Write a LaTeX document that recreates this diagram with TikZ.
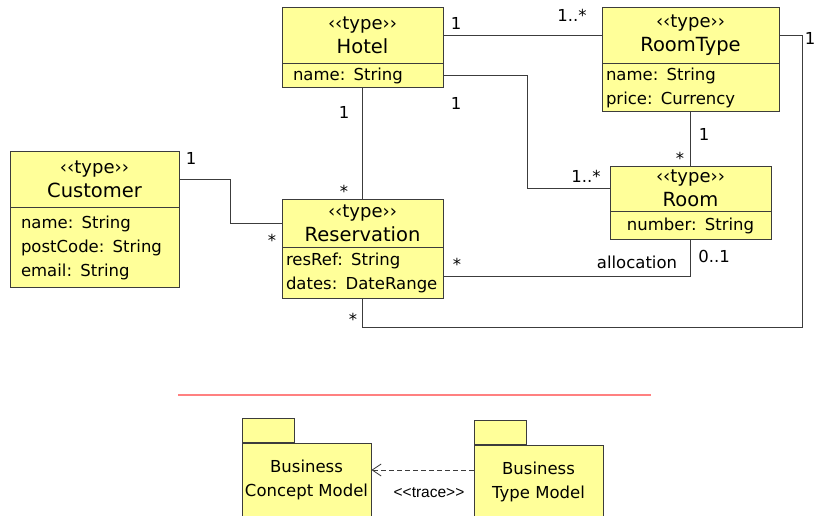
\documentclass[tikz,border=0pt]{standalone}
\usepackage{fontspec}
\setmainfont{DejaVu Sans}
\newfontfamily\tracefont{Liberation Sans}
\usetikzlibrary{positioning,arrows.meta,calc}
\definecolor{umlyellow}{RGB}{255,255,153}
\definecolor{umlline}{RGB}{60,60,60}
\definecolor{sepred}{RGB}{255,128,128}
\tikzset{
  typehead/.style={draw=umlline, fill=umlyellow, line width=0.9pt, align=center,
    inner sep=0pt, font=\fontsize{18}{24}\selectfont},
  typeattr/.style={draw=umlline, fill=umlyellow, line width=0.9pt, align=left,
    inner ysep=0pt, font=\fontsize{16.5}{24}\selectfont},
  mult/.style={inner sep=0pt, font=\fontsize{16.5}{18}\selectfont},
  assoc/.style={draw=umlline, line width=0.9pt},
  pkg/.style={draw=umlline, fill=umlyellow, line width=0.9pt, inner sep=0pt},
  pkgbody/.style={pkg, align=center, font=\fontsize{16.5}{24}\selectfont}
}
\newcommand{\tname}[1]{‹‹type››\\{\fontsize{19.5}{24}\selectfont #1}}
\begin{document}
\begin{tikzpicture}[x=1pt,y=-1pt]
  \useasboundingbox (0,0) rectangle (816,515);
  \clip (0,0) rectangle (816,515);

  % types
  \node[typehead, minimum width=161pt, minimum height=56pt] (hotel) at (362.5,35) {\tname{Hotel}};
  \node[typeattr, below=0pt of hotel, minimum height=24pt, text width=139pt, inner xsep=11pt] (hotelA) {name: String};

  \node[typehead, minimum width=169pt, minimum height=56pt] (customer) at (94.5,179) {\tname{Customer}};
  \node[typeattr, below=0pt of customer, minimum height=80pt, text width=147pt, inner xsep=11pt] (customerA)
    {name: String\\postCode: String\\email: String};

  \node[typehead, minimum width=161pt, minimum height=48pt] (reservation) at (362.5,223) {\tname{Reservation}};
  \node[typeattr, below=0pt of reservation, minimum height=51pt, text width=153pt, inner xsep=4pt] (reservationA)
    {resRef: String\\dates: DateRange};

  \node[typehead, minimum width=177pt, minimum height=56pt] (roomtype) at (690.5,35) {\tname{RoomType}};
  \node[typeattr, below=0pt of roomtype, minimum height=48pt, text width=169pt, inner xsep=4pt] (roomtypeA)
    {name: String\\price: Currency};

  \node[typehead, minimum width=161pt, minimum height=45pt] (room) at (690.5,188.5) {\tname{Room}};
  \node[typeattr, below=0pt of room, minimum height=28pt, text width=153pt, inner xsep=4pt, align=center] (roomA)
    {number: String};

  % associations
  \draw[assoc] (hotel.east) -- (roomtype.west);
  \draw[assoc] (hotelA.east) -- ++(84,0) |- (room.west);
  \draw[assoc] (hotelA.south) -- (reservation.north);
  \draw[assoc] (customer.east) -- ++(51,0) |- (reservation.west);
  \draw[assoc] (roomtypeA.south) -- (room.north);
  \draw[assoc] ($(reservationA.east)+(0,3)$) -| (roomA.south);
  \draw[assoc] (roomtype.east) -- ++(23,0) -- ++(0,292) -| (reservationA.south);

  % multiplicities
  \node[mult] (m1) at (456,23) {1};
  \node[mult] (m2) at (572,15) {1..*};
  \node[mult] (m3) at (456,103) {1};
  \node[mult] (m4) at (586,176) {1..*};
  \node[mult] (m5) at (344,112) {1};
  \node[mult] (m6) at (344,191) {*};
  \node[mult] (m7) at (191,158) {1};
  \node[mult] (m8) at (272,240) {*};
  \node[mult] (m9) at (704,134) {1};
  \node[mult] (m10) at (680,158) {*};
  \node[mult] (m11) at (457,264) {*};
  \node[mult] (alloc) at (637,262) {allocation};
  \node[mult] (m12) at (714,256) {0..1};
  \node[mult] (m13) at (810,38) {1};
  \node[mult] (m14) at (353,319) {*};

  % separator
  \draw[sepred, line width=1.6pt] (178,395) -- (651,395);

  % packages
  \node[pkgbody, minimum width=129pt, minimum height=74pt] (concept) at (306.5,480) {Business\\Concept Model};
  \node[pkg, minimum width=52pt, minimum height=24pt, anchor=south west] (conceptT) at (concept.north west) {};
  \node[pkgbody, minimum width=129pt, minimum height=74pt] (typemodel) at (538.5,482) {Business\\Type Model};
  \node[pkg, minimum width=52pt, minimum height=24pt, anchor=south west] (typemodelT) at (typemodel.north west) {};

  \draw[umlline, line width=0.8pt, dash pattern=on 5pt off 3pt, -{Straight Barb[length=9pt,width=12pt]}]
    ($(typemodel.west)+(0,-12)$) -- ($(concept.east)+(0,-10)$);
  \node[font=\tracefont\fontsize{15.5}{17}\selectfont, inner sep=0pt] (trace) at (429,493) {<<trace>>};
\end{tikzpicture}
\end{document}
